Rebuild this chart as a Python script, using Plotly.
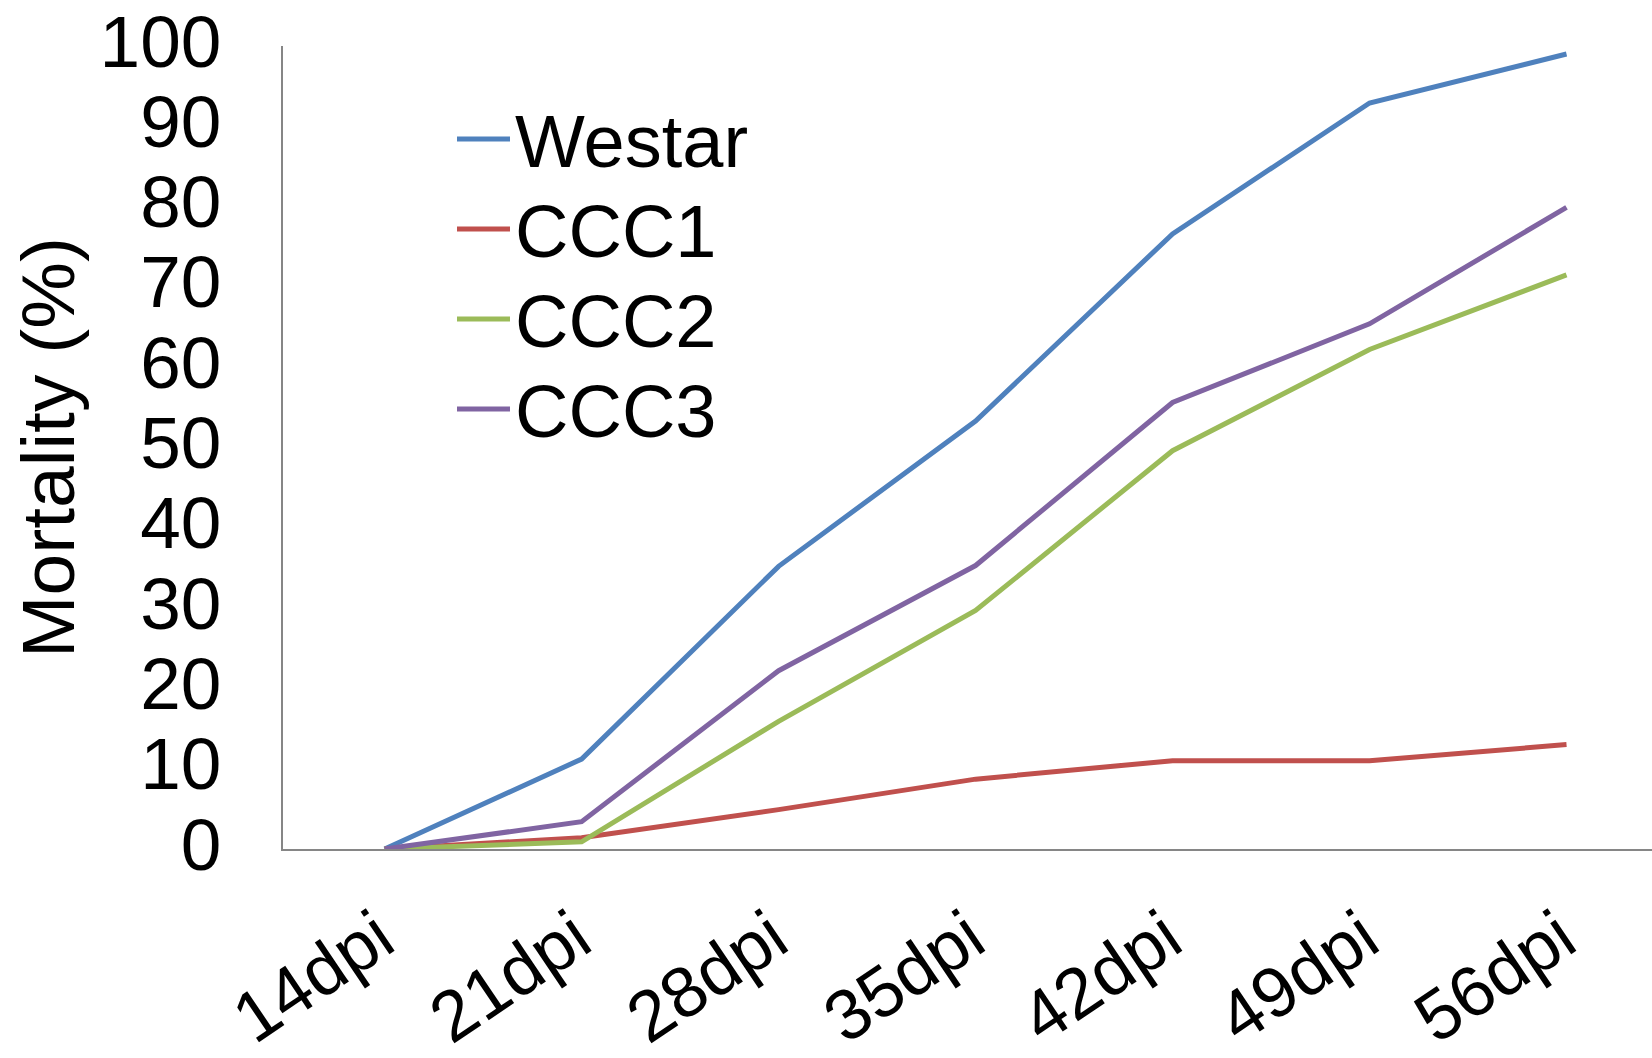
import plotly.graph_objects as go

categories = ["14dpi", "21dpi", "28dpi", "35dpi", "42dpi", "49dpi", "56dpi"]
westar = [0, 11.2, 35.2, 53.3, 76.6, 92.9, 99.0]
ccc1 = [0, 1.4, 4.9, 8.7, 11.0, 11.0, 13.0]
ccc2 = [0, 0.9, 15.9, 29.7, 49.6, 62.2, 71.5]
ccc3 = [0, 3.4, 22.2, 35.3, 55.6, 65.4, 79.9]
y_ticks = [0, 10, 20, 30, 40, 50, 60, 70, 80, 90, 100]

series = [("Westar", westar, "#4F81BD"), ("CCC1", ccc1, "#C0504D"),
          ("CCC2", ccc2, "#9BBB59"), ("CCC3", ccc3, "#8064A2")]

W, H = 1652, 1058
ML, MR, MT, MB = 283, 0, 46, 209
PW, PH = W - ML - MR, H - MT - MB

def px_x(px):
    return (px - ML) / PW

def px_y(py):
    return (H - MB - py) / PH

FONT = "Liberation Sans, Arial, sans-serif"

fig = go.Figure()
shapes, annotations = [], []
for i, (name, vals, col) in enumerate(series):
    fig.add_trace(go.Scatter(x=categories, y=vals, name=name, mode="lines",
                             line=dict(color=col, width=5), showlegend=False))
    ly = 139 + 90 * i
    shapes.append(dict(type="line", xref="paper", yref="paper",
                       x0=px_x(457), x1=px_x(510), y0=px_y(ly), y1=px_y(ly),
                       line=dict(color=col, width=5)))
    annotations.append(dict(text=name, xref="paper", yref="paper",
                            x=px_x(513), y=px_y(ly + 2), xanchor="left",
                            yanchor="middle", showarrow=False,
                            font=dict(size=74, color="black", family=FONT)))

fig.update_layout(
    width=W, height=H,
    margin=dict(l=ML, r=MR, t=MT, b=MB, pad=0),
    paper_bgcolor="white", plot_bgcolor="white",
    font=dict(family=FONT, size=73, color="black"),
    showlegend=False,
    shapes=shapes, annotations=annotations,
    xaxis=dict(type="category", range=[-0.516, 6.434], showgrid=False,
               showline=True, linecolor="#868686", linewidth=2,
               ticks="", tickangle=-34, tickfont=dict(size=71),
               ticklabelstandoff=18, ticklabelshift=-6,
               zeroline=False, automargin=False),
    yaxis=dict(range=[0, 100], tickvals=y_ticks, showgrid=False,
               showline=True, linecolor="#868686", linewidth=2,
               ticks="", tickfont=dict(size=73), ticklabelstandoff=45,
               ticklabelshift=-5,
               zeroline=False, automargin=False,
               title=dict(text="Mortality (%)", font=dict(size=75), standoff=0)),
)

fig.write_html("out.html")
